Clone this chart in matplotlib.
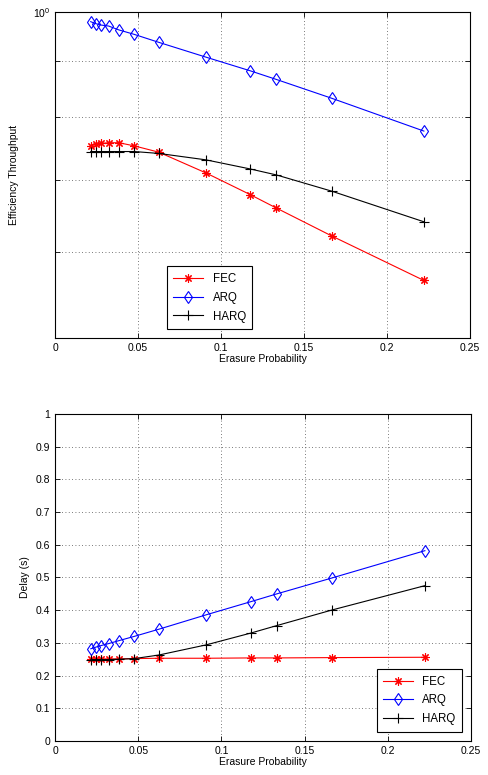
"""Efficiency throughput and delay versus erasure probability for FEC, ARQ and HARQ."""
import matplotlib
matplotlib.use("Agg")
import matplotlib.pyplot as plt
from matplotlib.ticker import FixedLocator, FixedFormatter, NullFormatter

plt.rcParams['font.family'] = ['Liberation Sans', 'DejaVu Sans']
plt.rcParams['mathtext.default'] = 'regular'

# Erasure probabilities (shared by all curves)
erasure = [0.0215, 0.0245, 0.0278, 0.0323, 0.0385, 0.0477,
           0.0625, 0.0909, 0.1176, 0.1333, 0.1667, 0.2222]

# Efficiency throughput (log axis)
thr_fec = [0.752, 0.755, 0.756, 0.757, 0.757, 0.752,
           0.742, 0.710, 0.678, 0.659, 0.621, 0.565]
thr_arq = [0.979, 0.975, 0.972, 0.970, 0.962, 0.953,
           0.937, 0.908, 0.882, 0.866, 0.832, 0.776]
thr_harq = [0.743, 0.743, 0.743, 0.743, 0.743, 0.743,
            0.740, 0.730, 0.716, 0.707, 0.683, 0.640]

# Delay in seconds
delay_fec = [0.251, 0.251, 0.251, 0.251, 0.251, 0.252,
             0.253, 0.253, 0.254, 0.254, 0.255, 0.256]
delay_arq = [0.282, 0.287, 0.292, 0.298, 0.307, 0.320,
             0.342, 0.386, 0.426, 0.450, 0.499, 0.582]
delay_harq = [0.249, 0.249, 0.249, 0.249, 0.250, 0.252,
              0.263, 0.294, 0.330, 0.353, 0.401, 0.475]

labels = ['FEC', 'ARQ', 'HARQ']
FS = 7.5
GRID = dict(linestyle=(0, (1, 3)), color='0.3', linewidth=0.6)


def draw_curves(ax, fec, arq, harq):
    # matlab-style asterisk: 8 spokes
    ax.plot(erasure, fec, color='red', marker=(8, 2, 0), markersize=6, markeredgewidth=0.8,
            linewidth=0.8, label=labels[0])
    ax.plot(erasure, arq, color='blue', marker='d', markersize=6.5, markerfacecolor='none',
            markeredgewidth=0.8, linewidth=0.8, label=labels[1])
    ax.plot(erasure, harq, color='black', marker='+', markersize=7, markeredgewidth=0.8,
            linewidth=0.8, label=labels[2])


def style_axes(ax):
    ax.set_xlim(0, 0.25)
    ax.set_xticks([0, 0.05, 0.1, 0.15, 0.2, 0.25])
    ax.set_xticklabels(['0', '0.05', '0.1', '0.15', '0.2', '0.25'])
    ax.tick_params(which='both', direction='in', top=True, right=True, labelsize=FS,
                   length=3.5, width=0.6)
    for s in ax.spines.values():
        s.set_linewidth(0.8)
    ax.set_xlabel('Erasure Probability', fontsize=FS, labelpad=1)


fig = plt.figure(figsize=(4.89, 7.75), dpi=100)

# Top: efficiency throughput
ax1 = fig.add_axes([0.1125, 0.5639, 0.8487, 0.421])
draw_curves(ax1, thr_fec, thr_arq, thr_harq)
ax1.set_yscale('log')
ax1.set_ylim(0.5, 1.0)
ax1.yaxis.set_major_locator(FixedLocator([1.0]))
ax1.yaxis.set_major_formatter(FixedFormatter(['$10^{0}$']))
ax1.yaxis.set_minor_locator(FixedLocator([0.6, 0.7, 0.8, 0.9]))
ax1.yaxis.set_minor_formatter(NullFormatter())
style_axes(ax1)
ax1.grid(True, which='both', **GRID)
ax1.set_ylabel('Efficiency Throughput', fontsize=FS, labelpad=10)
leg1 = ax1.legend(loc='lower left', bbox_to_anchor=(0.27, 0.028), borderaxespad=0,
                  fontsize=FS + 0.8, fancybox=False, edgecolor='black', framealpha=1,
                  handlelength=2.6, borderpad=0.55, labelspacing=0.6)
leg1.get_frame().set_linewidth(0.8)

# Bottom: delay
ax2 = fig.add_axes([0.1125, 0.0439, 0.851, 0.4219])
draw_curves(ax2, delay_fec, delay_arq, delay_harq)
ax2.set_ylim(0, 1)
ax2.set_yticks([i / 10 for i in range(11)])
ax2.set_yticklabels(['0', '0.1', '0.2', '0.3', '0.4', '0.5', '0.6', '0.7', '0.8', '0.9', '1'])
style_axes(ax2)
ax2.grid(True, **GRID)
ax2.set_ylabel('Delay (s)', fontsize=FS, labelpad=4)
leg2 = ax2.legend(loc='lower right', fontsize=FS + 0.8, fancybox=False, edgecolor='black',
                  framealpha=1, handlelength=2.6, borderpad=0.55, labelspacing=0.6,
                  borderaxespad=0.8)
leg2.get_frame().set_linewidth(0.8)

fig.savefig('out.png', dpi=100)
